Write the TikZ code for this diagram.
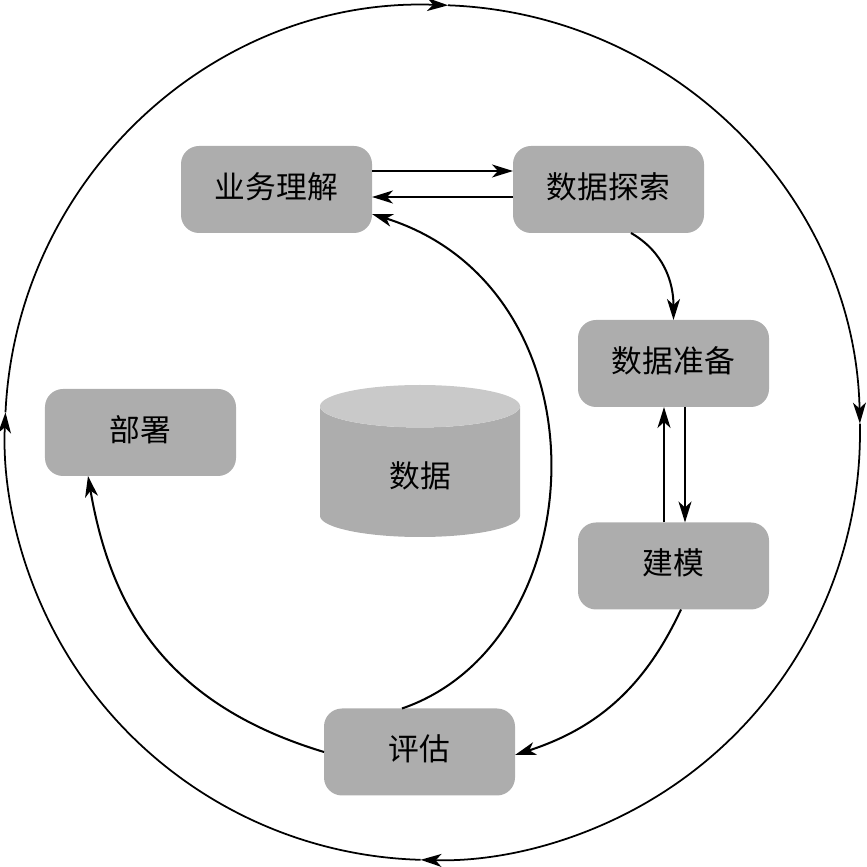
\documentclass[tikz,border=0pt]{standalone}
\usepackage{fontspec}
\setmainfont{Noto Sans CJK SC}
\usetikzlibrary{arrows.meta,shapes.geometric}
\definecolor{boxgray}{HTML}{ADADAD}
\definecolor{topgray}{HTML}{C9C9C9}

\begin{document}
\begin{tikzpicture}[
    phase/.style={rectangle, rounded corners=0.36cm, minimum width=3.82cm, minimum height=1.74cm, text centered, text height=0.5cm, text depth=0.14cm, outer sep=0pt, fill=boxgray, font=\fontsize{17.5}{20}\selectfont},
    store/.style={cylinder, shape border rotate=90, aspect=0.58, minimum width=4cm, minimum height=3.04cm, outer sep=0pt, cylinder uses custom fill, cylinder body fill=boxgray, cylinder end fill=topgray, font=\fontsize{17.5}{20}\selectfont},
    arrow/.style={line width=1.15pt,->,>={Stealth[length=0.42cm,width=0.26cm,inset=0.12cm]}},
    ring/.style={line width=1pt,->,>={Stealth[length=0.42cm,width=0.26cm,inset=0.12cm]}}
]
\useasboundingbox (0,0) rectangle (17.34,17.34);

% Phases
\node[phase] (business) at (5.53,13.55) {业务理解};
\node[phase] (explore) at (12.17,13.55) {数据探索};
\node[phase] (prepare) at (13.47,10.07) {数据准备};
\node[phase] (model) at (13.47,6.02) {建模};
\node[phase] (evaluate) at (8.39,2.30) {评估};
\node[phase] (deploy) at (2.81,8.69) {部署};
\node[store, anchor=shape center] (data) at (8.40,8.12) {数据};

% Outer ring
\coordinate (ringC) at (8.65,8.69);
\coordinate (ringT) at ([shift={(87.9:8.55)}]ringC);
\coordinate (ringR) at ([shift={(1.2:8.55)}]ringC);
\coordinate (ringB) at ([shift={(268.4:8.55)}]ringC);
\coordinate (ringL) at ([shift={(177.3:8.55)}]ringC);
\draw[ring] (ringT) arc[start angle=87.9, end angle=1.2, radius=8.55];
\draw[ring] (ringR) arc[start angle=1.2, end angle=-91.6, radius=8.55];
\draw[ring] (ringB) arc[start angle=268.4, end angle=177.3, radius=8.55];
\draw[ring] (ringL) arc[start angle=177.3, end angle=87.9, radius=8.55];

% Arrows between phases
\draw[arrow] ([yshift=0.37cm]business.east) -- ([yshift=0.37cm]explore.west);
\draw[arrow] ([yshift=-0.15cm]explore.west) -- ([yshift=-0.15cm]business.east);
\draw[arrow] ([xshift=0.45cm]explore.south) to[out=-30,in=90] (prepare.north);
\draw[arrow] ([xshift=0.23cm]prepare.south) -- ([xshift=0.23cm]model.north);
\draw[arrow] ([xshift=-0.19cm]model.north) -- ([xshift=-0.19cm]prepare.south);
\draw[arrow] ([xshift=0.15cm]model.south) to[out=-115,in=18] ([yshift=-0.06cm]evaluate.east);
\draw[arrow] ([xshift=-0.35cm]evaluate.north) .. controls +(3.9,1.34) and +(4.78,-1.5) .. ([yshift=-0.49cm]business.east);
\draw[arrow] (evaluate.west) .. controls +(-3.18,0.96) and +(0.45,-2.62) .. ([xshift=-1.05cm]deploy.south);

\end{tikzpicture}
\end{document}
